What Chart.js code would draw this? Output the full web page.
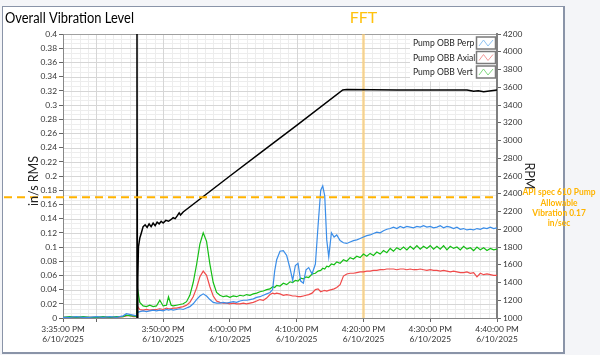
<!DOCTYPE html>
<html>
<head>
<meta charset="utf-8">
<script src="https://cdn.jsdelivr.net/npm/chart.js@4.4.1/dist/chart.umd.min.js"></script>
<style>
  html, body { margin: 0; padding: 0; background: #F4F5F8; }
  #wrap { width: 600px; height: 355px; }
</style>
</head>
<body>
<div id="wrap"><canvas id="vibChart" width="600" height="355"></canvas></div>
<script>
// time axis in minutes after 3:35:00 PM
const minutes = [
  0, 1, 2, 3, 4, 5, 6, 7, 8, 9,
  9.5, 10, 10.5, 11, 11.2, 11.5, 12, 12.5, 13, 13.5,
  14, 14.5, 15, 15.5, 15.8, 16.2, 16.5, 17, 17.5, 18,
  18.5, 19, 19.5, 20, 20.5, 21, 21.5, 22, 22.5, 23,
  23.5, 24, 24.5, 25, 25.5, 26, 26.5, 27, 27.5, 28,
  28.5, 29, 29.5, 30, 30.5, 31, 31.4, 31.7, 32, 32.5,
  33, 33.5, 34, 34.4, 34.8, 35.2, 35.6, 36, 36.4, 36.8,
  37.3, 37.8, 38.2, 38.6, 38.9, 39.2, 39.5, 39.8, 40.2, 40.6,
  41, 41.5, 42, 42.5, 43, 43.5, 44, 44.5, 45, 45.5,
  46, 46.5, 47, 47.5, 48, 48.5, 49, 49.5, 50, 50.5,
  51, 51.5, 52, 52.5, 53, 53.5, 54, 54.5, 55, 55.5,
  56, 56.5, 57, 57.5, 58, 58.5, 59, 59.5, 60, 60.5,
  61, 61.5, 62, 62.5, 63, 63.5, 64, 64.5, 65
];

const perp = [
  0.001, 0.001, 0.002, 0.001, 0.001, 0.002, 0.001, 0.002, 0.001, 0.003,
  0.006, 0.005, 0.004, 0.003, 0.008, 0.009, 0.010, 0.009, 0.010, 0.011,
  0.010, 0.011, 0.010, 0.012, 0.011, 0.012, 0.011, 0.012, 0.013, 0.012,
  0.014, 0.016, 0.020, 0.026, 0.031, 0.034, 0.031, 0.026, 0.022, 0.021,
  0.021, 0.022, 0.021, 0.022, 0.023, 0.022, 0.024, 0.025, 0.025, 0.026,
  0.027, 0.029, 0.030, 0.032, 0.034, 0.036, 0.040, 0.066, 0.082, 0.094,
  0.095, 0.088, 0.070, 0.053, 0.074, 0.077, 0.052, 0.049, 0.068, 0.071,
  0.062, 0.076, 0.130, 0.180, 0.186, 0.172, 0.110, 0.086, 0.120, 0.114,
  0.117, 0.109, 0.106, 0.105, 0.107, 0.109, 0.110, 0.112, 0.114, 0.116,
  0.117, 0.119, 0.121, 0.120, 0.123, 0.125, 0.126, 0.128, 0.126, 0.129,
  0.127, 0.129, 0.128, 0.127, 0.129, 0.128, 0.130, 0.128, 0.129, 0.127,
  0.128, 0.130, 0.127, 0.129, 0.128, 0.126, 0.128, 0.125, 0.126, 0.124,
  0.125, 0.124, 0.126, 0.125, 0.127, 0.126, 0.128, 0.126, 0.127
];

const axial = [
  0.001, 0.001, 0.001, 0.001, 0.001, 0.001, 0.001, 0.001, 0.001, 0.002,
  0.003, 0.004, 0.002, 0.002, 0.016, 0.012, 0.011, 0.012, 0.011, 0.012,
  0.012, 0.013, 0.012, 0.014, 0.013, 0.013, 0.014, 0.014, 0.015, 0.016,
  0.018, 0.022, 0.030, 0.042, 0.058, 0.066, 0.060, 0.044, 0.031, 0.024,
  0.022, 0.021, 0.021, 0.020, 0.021, 0.020, 0.020, 0.021, 0.020, 0.021,
  0.022, 0.024, 0.026, 0.025, 0.028, 0.033, 0.035, 0.034, 0.035, 0.034,
  0.032, 0.033, 0.032, 0.031, 0.031, 0.030, 0.030, 0.031, 0.032, 0.033,
  0.035, 0.040, 0.041, 0.037, 0.038, 0.039, 0.038, 0.039, 0.040, 0.041,
  0.043, 0.047, 0.059, 0.062, 0.063, 0.063, 0.064, 0.065, 0.065, 0.066,
  0.066, 0.067, 0.067, 0.068, 0.068, 0.069, 0.069, 0.069, 0.068, 0.069,
  0.069, 0.068, 0.069, 0.068, 0.068, 0.069, 0.068, 0.067, 0.068, 0.067,
  0.067, 0.066, 0.067, 0.066, 0.065, 0.066, 0.065, 0.064, 0.064, 0.065,
  0.063, 0.064, 0.058, 0.063, 0.061, 0.062, 0.061, 0.060, 0.060
];

const vert = [
  0.001, 0.002, 0.001, 0.002, 0.001, 0.001, 0.002, 0.001, 0.002, 0.002,
  0.004, 0.003, 0.003, 0.002, 0.039, 0.022, 0.017, 0.016, 0.018, 0.016,
  0.017, 0.025, 0.017, 0.018, 0.030, 0.018, 0.017, 0.018, 0.019, 0.020,
  0.023, 0.032, 0.050, 0.075, 0.104, 0.120, 0.108, 0.076, 0.050, 0.036,
  0.032, 0.030, 0.031, 0.029, 0.031, 0.030, 0.032, 0.031, 0.033, 0.032,
  0.034, 0.035, 0.037, 0.038, 0.040, 0.041, 0.044, 0.043, 0.046, 0.045,
  0.049, 0.047, 0.051, 0.050, 0.053, 0.052, 0.056, 0.055, 0.058, 0.057,
  0.062, 0.063, 0.066, 0.067, 0.070, 0.069, 0.073, 0.072, 0.076, 0.075,
  0.079, 0.077, 0.082, 0.080, 0.085, 0.083, 0.087, 0.085, 0.090, 0.087,
  0.091, 0.088, 0.093, 0.090, 0.095, 0.092, 0.098, 0.094, 0.099, 0.096,
  0.100, 0.096, 0.101, 0.097, 0.102, 0.097, 0.101, 0.098, 0.102, 0.097,
  0.101, 0.097, 0.102, 0.096, 0.101, 0.098, 0.100, 0.096, 0.101, 0.097,
  0.099, 0.095, 0.100, 0.096, 0.099, 0.095, 0.098, 0.096, 0.097
];

// pump speed, right axis
const rpmMinutes = [
  11.0, 11.08, 11.14, 11.2, 11.3, 11.5, 11.7, 12.0, 12.3, 12.6,
  12.9, 13.2, 13.5, 13.8, 14.1, 14.4, 14.7, 15.0, 15.4, 15.8,
  16.2, 16.5, 16.8, 17.1, 17.4, 17.6, 18.0, 25.0, 30.0, 35.0,
  41.9, 42.5, 50.0, 55.0, 60.5, 61.5, 62.2, 63.0, 65.0
];
const rpmValues = [
  0, 4600, 800, 1450, 1800, 1900, 1950, 2030, 2050, 2020,
  2060, 2030, 2070, 2040, 2080, 2060, 2090, 2070, 2100, 2090,
  2110, 2130, 2120, 2150, 2185, 2160, 2195, 2600, 2885, 3170,
  3570, 3575, 3570, 3570, 3570, 3555, 3560, 3550, 3570
];

const xTickMinutes = [0, 5, 15, 25, 35, 45, 55, 65];
const xTickTimes = ['3:35:00 PM', '', '3:50:00 PM', '4:00:00 PM', '4:10:00 PM', '4:20:00 PM', '4:30:00 PM', '4:40:00 PM'];
const xTickDate = '6/10/2025';
const seriesNames = ['Pump OBB Perp', 'Pump OBB Axial', 'Pump OBB Vert', 'RPM'];
const lineColors = ['#3A8DE8', '#F04A4A', '#14BE14', '#000000'];
const legendColors = ['#8EC3F3', '#F39A9A', '#7FD97F'];
const allowableLimit = 0.17;
const allowableText = ['API spec 610 Pump', 'Allowable', 'Vibration 0.17', 'in/sec'];
const fftMinute = 45;

const FONT = "Lato, 'Noto Sans', sans-serif";

function pts(xs, ys) {
  return xs.map((x, i) => ({ x: x, y: ys[i] }));
}

// text squeezed horizontally, the original UI font is narrower than Lato
function narrowText(ctx, text, x, y, sx) {
  ctx.save();
  ctx.translate(x, y);
  ctx.scale(sx, 1);
  ctx.fillText(text, 0, 0);
  ctx.restore();
}

const framePlugin = {
  id: 'frame',
  beforeDraw(chart) {
    const ctx = chart.ctx, a = chart.chartArea;
    const x = chart.scales.x, y = chart.scales.y;
    ctx.save();
    ctx.fillStyle = '#F4F5F8';
    ctx.fillRect(0, 0, 600, 355);
    ctx.fillStyle = '#FFFFFF';
    ctx.fillRect(3, 6, 560, 346);
    ctx.strokeStyle = '#8A94A8';
    ctx.lineWidth = 1;
    ctx.strokeRect(2.5, 6.5, 561, 346);
    ctx.lineWidth = 2;
    ctx.beginPath();
    ctx.moveTo(564, 6); ctx.lineTo(564, 353); ctx.lineTo(2, 353);
    ctx.stroke();

    ctx.fillStyle = '#000';
    ctx.font = '14.5px ' + FONT;
    ctx.textBaseline = 'alphabetic';
    narrowText(ctx, 'Overall Vibration Level', 5, 23, 0.89);

    // grid: minor then major
    ctx.lineWidth = 1;
    ctx.strokeStyle = '#EDEDED';
    for (let i = 0; i <= 60; i++) {
      const py = Math.round(y.getPixelForValue(i * 0.4 / 60)) + 0.5;
      ctx.beginPath(); ctx.moveTo(a.left, py); ctx.lineTo(a.right, py); ctx.stroke();
    }
    for (let i = 0; i <= 52; i++) {
      const px = Math.round(x.getPixelForValue(i * 1.25)) + 0.5;
      ctx.beginPath(); ctx.moveTo(px, a.top); ctx.lineTo(px, a.bottom); ctx.stroke();
    }
    ctx.strokeStyle = '#D6D6D6';
    for (let i = 0; i <= 20; i++) {
      const py = Math.round(y.getPixelForValue(i * 0.02)) + 0.5;
      ctx.beginPath(); ctx.moveTo(a.left, py); ctx.lineTo(a.right, py); ctx.stroke();
    }
    xTickMinutes.forEach(m => {
      const px = Math.round(x.getPixelForValue(m)) + 0.5;
      ctx.beginPath(); ctx.moveTo(px, a.top); ctx.lineTo(px, a.bottom); ctx.stroke();
    });
    ctx.strokeStyle = '#A0A0A0';
    ctx.beginPath(); ctx.moveTo(a.left, a.top + 0.5); ctx.lineTo(a.right, a.top + 0.5); ctx.stroke();
    ctx.restore();
  },
  beforeDatasetsDraw(chart) {
    const ctx = chart.ctx, a = chart.chartArea;
    const px = chart.scales.x.getPixelForValue(fftMinute);
    ctx.save();
    ctx.strokeStyle = 'rgba(255, 205, 110, 0.6)';
    ctx.lineWidth = 3;
    ctx.beginPath(); ctx.moveTo(px, a.top); ctx.lineTo(px, a.bottom); ctx.stroke();
    ctx.restore();
  },
  afterDatasetsDraw(chart) {
    const ctx = chart.ctx, a = chart.chartArea;
    const py = chart.scales.y.getPixelForValue(allowableLimit);
    ctx.save();
    ctx.strokeStyle = '#FFB300';
    ctx.lineWidth = 2;
    ctx.setLineDash([8, 5]);
    ctx.beginPath(); ctx.moveTo(4, py); ctx.lineTo(a.right - 2, py); ctx.stroke();
    ctx.setLineDash([]);

    // legend box
    const lx = 410, ly = a.top + 1;
    ctx.fillStyle = '#FFFFFF';
    ctx.fillRect(lx, ly, a.right - lx - 1, 46);
    ctx.font = '9.5px ' + FONT;
    ctx.textBaseline = 'middle';
    ctx.fillStyle = '#1E1E1E';
    for (let i = 0; i < 3; i++) {
      const cy = ly + 8 + i * 14.5;
      narrowText(ctx, seriesNames[i], 413, cy, 0.9);
      ctx.strokeStyle = '#7A7A7A';
      ctx.lineWidth = 1.5;
      ctx.strokeRect(476.5, cy - 6, 19, 12);
      ctx.strokeStyle = legendColors[i];
      ctx.lineWidth = 1;
      ctx.beginPath();
      ctx.moveTo(479, cy + 3); ctx.lineTo(483.5, cy - 3); ctx.lineTo(488, cy + 3); ctx.lineTo(493, cy - 3);
      ctx.stroke();
    }
    ctx.restore();
  },
  afterDraw(chart) {
    const ctx = chart.ctx;
    ctx.save();
    ctx.fillStyle = '#FFC20E';
    ctx.font = '16px ' + FONT;
    ctx.textAlign = 'center';
    ctx.textBaseline = 'middle';
    ctx.fillText('FFT', chart.scales.x.getPixelForValue(fftMinute), 18);

    ctx.fillStyle = '#222';
    ctx.font = '12.5px ' + FONT;
    ctx.save();
    ctx.translate(34, 181);
    ctx.rotate(-Math.PI / 2);
    ctx.fillText('in/s RMS', 0, 0);
    ctx.restore();
    ctx.save();
    ctx.translate(529, 176);
    ctx.rotate(Math.PI / 2);
    ctx.fillText(seriesNames[3], 0, 0);
    ctx.restore();

    ctx.fillStyle = '#FFB400';
    ctx.font = 'bold 10px ' + FONT;
    allowableText.forEach((t, i) => narrowText(ctx, t, 559, 192 + i * 10.3, 0.84));
    ctx.restore();
  }
};

const tickFont = { family: FONT, size: 8.4, lineHeight: 1.2 };

new Chart(document.getElementById('vibChart'), {
  type: 'line',
  data: {
    datasets: [
      { label: seriesNames[3], data: pts(rpmMinutes, rpmValues), yAxisID: 'rpm', borderColor: lineColors[3], borderWidth: 1.5, order: 0 },
      { label: seriesNames[0], data: pts(minutes, perp), yAxisID: 'y', borderColor: lineColors[0], borderWidth: 1.2, order: 1 },
      { label: seriesNames[2], data: pts(minutes, vert), yAxisID: 'y', borderColor: lineColors[2], borderWidth: 1.2, order: 2 },
      { label: seriesNames[1], data: pts(minutes, axial), yAxisID: 'y', borderColor: lineColors[1], borderWidth: 1.2, order: 3 }
    ]
  },
  options: {
    responsive: false,
    animation: false,
    devicePixelRatio: 1,
    elements: { point: { radius: 0 }, line: { tension: 0 } },
    layout: { padding: { top: 34, left: 0, right: 0, bottom: 0 } },
    plugins: { legend: { display: false }, tooltip: { enabled: false } },
    scales: {
      x: {
        type: 'linear', min: 0, max: 65,
        afterBuildTicks: s => { s.ticks = xTickMinutes.map(v => ({ value: v })); },
        afterFit: s => { s.height = 37; },
        ticks: {
          autoSkip: false, maxRotation: 0, padding: 2, color: '#333', font: tickFont,
          callback: v => {
            const i = xTickMinutes.indexOf(v);
            return xTickTimes[i] ? [xTickTimes[i], xTickDate] : '';
          }
        },
        grid: { drawOnChartArea: false, drawTicks: true, tickLength: 4, color: '#666' },
        border: { color: '#888' }
      },
      y: {
        position: 'left', min: 0, max: 0.4,
        afterFit: s => { s.width = 63; },
        ticks: {
          stepSize: 0.02, autoSkip: false, padding: 2, color: '#333', font: tickFont,
          callback: v => String(Number(v.toFixed(2)))
        },
        grid: { drawOnChartArea: false, drawTicks: true, tickLength: 4, color: '#666' },
        border: { color: '#888' }
      },
      rpm: {
        position: 'right', min: 1000, max: 4200,
        afterFit: s => { s.width = 103; },
        ticks: {
          stepSize: 200, autoSkip: false, padding: 2, color: '#333', font: tickFont,
          callback: v => String(v)
        },
        grid: { drawOnChartArea: false, drawTicks: true, tickLength: 4, color: '#666' },
        border: { color: '#808080', width: 2 }
      }
    }
  },
  plugins: [framePlugin]
});
</script>
</body>
</html>
